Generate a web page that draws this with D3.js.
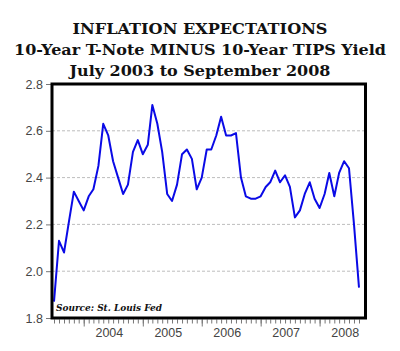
<!DOCTYPE html>
<html>
<head>
<meta charset="utf-8">
<script src="https://cdn.jsdelivr.net/npm/d3@7"></script>
<style>
  html, body { margin: 0; padding: 0; background: #fff; }
  svg { display: block; }
</style>
</head>
<body>
<svg id="chart" width="400" height="351"></svg>
<script>
// ---- data ----
const titleLines = [
  "INFLATION EXPECTATIONS",
  "10-Year T-Note MINUS 10-Year TIPS Yield",
  "July 2003 to September 2008"
];
const sourceText = "Source: St. Louis Fed";
const startMonth = new Date(2003, 6, 1); // July 2003, monthly observations
const spreadValues = [
  1.87, 2.13, 2.08, 2.21, 2.34, 2.30, 2.26, 2.32, 2.35, 2.45,
  2.63, 2.58, 2.47, 2.40, 2.33, 2.37, 2.51, 2.56, 2.50, 2.54,
  2.71, 2.63, 2.51, 2.33, 2.30, 2.37, 2.50, 2.52, 2.48, 2.35,
  2.40, 2.52, 2.52, 2.58, 2.66, 2.58, 2.58, 2.59, 2.40, 2.32,
  2.31, 2.31, 2.32, 2.36, 2.38, 2.43, 2.38, 2.41, 2.36, 2.23,
  2.26, 2.33, 2.38, 2.31, 2.27, 2.33, 2.42, 2.32, 2.42, 2.47,
  2.44, 2.20, 1.93
];
const yTicks = [1.8, 2.0, 2.2, 2.4, 2.6, 2.8];
const gridValues = [2.0, 2.2, 2.4, 2.6];
const yearLabels = [2004, 2005, 2006, 2007, 2008];

// ---- build ----
const data = spreadValues.map((v, i) => ({ date: d3.timeMonth.offset(startMonth, i), value: v }));
const endMonth = data[data.length - 1].date;

const svg = d3.select("#chart");

const x = d3.scaleTime().domain([startMonth, endMonth]).range([54, 359]);
const y = d3.scaleLinear().domain([1.8, 2.8]).range([318, 84]);

const frameL = 52, frameR = 365.5;

// title
const titleY = [34, 55, 76];
const titleW = [255, 372, 261];
svg.append("g").selectAll("text").data(titleLines).join("text")
  .attr("x", 200)
  .attr("y", (d, i) => titleY[i])
  .attr("text-anchor", "middle")
  .attr("textLength", (d, i) => titleW[i])
  .attr("lengthAdjust", "spacingAndGlyphs")
  .style("font-family", "'DejaVu Serif', 'Liberation Serif', serif")
  .style("font-weight", "bold")
  .style("font-size", "15.5px")
  .style("fill", "#111")
  .text(d => d);

// gridlines
svg.append("g").selectAll("line").data(gridValues).join("line")
  .attr("x1", frameL).attr("x2", frameR)
  .attr("y1", d => y(d)).attr("y2", d => y(d))
  .attr("stroke", "#bdbdbd")
  .attr("stroke-width", 1)
  .attr("stroke-dasharray", "3,2");

// y axis
const yAxis = svg.append("g")
  .attr("transform", `translate(${frameL - 1},0)`)
  .call(d3.axisLeft(y).tickValues(yTicks).tickFormat(d3.format(".1f")).tickSize(5).tickPadding(3));
yAxis.select(".domain").remove();
yAxis.selectAll("line").attr("stroke", "#777");
yAxis.selectAll("text")
  .style("font-family", "'Liberation Sans', Arial, sans-serif")
  .style("font-size", "12.5px")
  .style("fill", "#444");

// bottom minor ticks (monthly)
const months = d3.timeMonth.range(startMonth, d3.timeMonth.offset(endMonth, 1));
const xMinor = svg.append("g")
  .attr("transform", `translate(0,${y(1.8) + 1.5})`)
  .call(d3.axisBottom(x).tickValues(months).tickSize(4).tickFormat(""));
xMinor.select(".domain").remove();
xMinor.selectAll("line").attr("stroke", "#777");

// bottom major ticks (January)
const janTicks = months.filter(d => d.getMonth() === 0);
const xMajor = svg.append("g")
  .attr("transform", `translate(0,${y(1.8) + 1.5})`)
  .call(d3.axisBottom(x).tickValues(janTicks).tickSize(7).tickFormat(""));
xMajor.select(".domain").remove();
xMajor.selectAll("line").attr("stroke", "#777");

// year labels
svg.append("g").selectAll("text").data(yearLabels).join("text")
  .attr("x", d => x(new Date(d, 5, 8)))
  .attr("y", 337)
  .attr("text-anchor", "middle")
  .style("font-family", "'Liberation Sans', Arial, sans-serif")
  .style("font-size", "12.5px")
  .style("fill", "#444")
  .text(d => d);

// line
const line = d3.line().x(d => x(d.date)).y(d => y(d.value));
svg.append("path")
  .datum(data)
  .attr("d", line)
  .attr("fill", "none")
  .attr("stroke", "#0a0ae6")
  .attr("stroke-width", 2)
  .attr("stroke-linejoin", "round");

// frame
svg.append("rect")
  .attr("x", frameL)
  .attr("y", y(2.8))
  .attr("width", frameR - frameL)
  .attr("height", y(1.8) - y(2.8))
  .attr("fill", "none")
  .attr("stroke", "#000")
  .attr("stroke-width", 3);

// source
svg.append("text")
  .attr("x", 56)
  .attr("y", 311)
  .attr("textLength", 106)
  .attr("lengthAdjust", "spacingAndGlyphs")
  .style("font-family", "'DejaVu Serif', 'Liberation Serif', serif")
  .style("font-style", "italic")
  .style("font-weight", "bold")
  .style("font-size", "9.5px")
  .style("fill", "#111")
  .text(sourceText);
</script>
</body>
</html>
